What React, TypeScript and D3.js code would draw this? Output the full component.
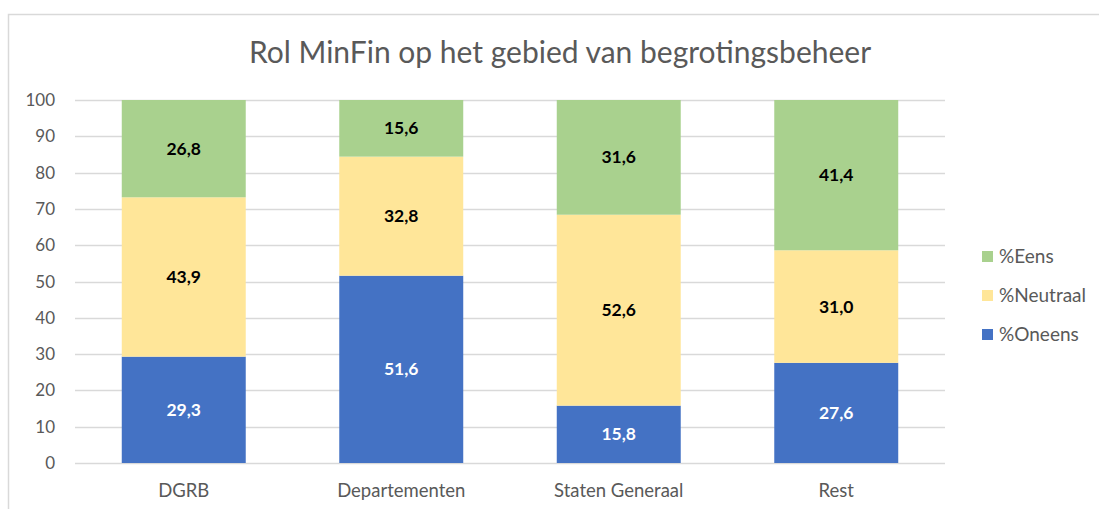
import React, { useEffect, useRef } from 'react';
import * as d3 from 'd3';

const categories = ['DGRB', 'Departementen', 'Staten Generaal', 'Rest'];
const oneens = [29.3, 51.6, 15.8, 27.6];
const neutraal = [43.9, 32.8, 52.6, 31.0];
const eens = [26.8, 15.6, 31.6, 41.4];
const seriesNames = ['%Oneens', '%Neutraal', '%Eens'];
const seriesColors = ['#4472C4', '#FFE699', '#A9D18E'];
const labelColors = ['#ffffff', '#000000', '#000000'];
const yTicks = [0, 10, 20, 30, 40, 50, 60, 70, 80, 90, 100];

const FONT = "Lato, 'Open Sans', sans-serif";

const App = () => {
  const ref = useRef<SVGSVGElement>(null);

  useEffect(() => {
    const svg = d3.select(ref.current);
    svg.selectAll('*').remove();

    // kader om de grafiek
    svg.append('rect')
      .attr('x', 8.5).attr('y', 14.5)
      .attr('width', 1100).attr('height', 500)
      .attr('fill', '#fff')
      .attr('stroke', '#D9D9D9')
      .attr('stroke-width', 1.5);

    svg.append('text')
      .attr('x', 560).attr('y', 63)
      .attr('text-anchor', 'middle')
      .style('font-family', FONT)
      .style('font-size', '30px')
      .attr('fill', '#595959')
      .text('Rol MinFin op het gebied van begrotingsbeheer');

    const x = d3.scaleBand().domain(categories).range([75, 945]).paddingInner(0.43).paddingOuter(0.215);
    const y = d3.scaleLinear().domain([0, 100]).range([463, 100]);

    svg.append('g')
      .selectAll('line')
      .data(yTicks)
      .enter().append('line')
      .attr('x1', 75).attr('x2', 945)
      .attr('y1', d => Math.round(y(d)) + 0.5)
      .attr('y2', d => Math.round(y(d)) + 0.5)
      .attr('stroke', '#D9D9D9')
      .attr('stroke-width', 1.3);

    svg.append('g')
      .selectAll('text')
      .data(yTicks)
      .enter().append('text')
      .attr('x', 55)
      .attr('y', d => y(d) + 6)
      .attr('text-anchor', 'end')
      .style('font-family', FONT)
      .style('font-size', '17px')
      .attr('fill', '#595959')
      .text(d => d);

    const rows = categories.map((c, i) => ({ cat: c, oneens: oneens[i], neutraal: neutraal[i], eens: eens[i] }));
    const stack = d3.stack<any>().keys(['oneens', 'neutraal', 'eens']);
    const layers = stack(rows);

    layers.forEach((layer, li) => {
      const g = svg.append('g');
      g.selectAll('rect')
        .data(layer)
        .enter().append('rect')
        .attr('x', d => x(d.data.cat)!)
        .attr('width', x.bandwidth())
        .attr('y', d => y(d[1]))
        .attr('height', d => y(d[0]) - y(d[1]))
        .attr('fill', seriesColors[li]);
      g.selectAll('text')
        .data(layer)
        .enter().append('text')
        .attr('x', d => x(d.data.cat)! + x.bandwidth() / 2)
        .attr('y', d => (y(d[0]) + y(d[1])) / 2 + 6)
        .attr('text-anchor', 'middle')
        .style('font-family', FONT)
        .style('font-size', '17.5px')
        .style('font-weight', 'bold')
        .attr('fill', labelColors[li])
        .text(d => (d[1] - d[0]).toFixed(1).replace('.', ','));
    });

    svg.append('g')
      .selectAll('text')
      .data(categories)
      .enter().append('text')
      .attr('x', d => x(d)! + x.bandwidth() / 2)
      .attr('y', 497)
      .attr('text-anchor', 'middle')
      .style('font-family', FONT)
      .style('font-size', '18.5px')
      .attr('fill', '#595959')
      .text(d => d);

    // legenda, van boven naar beneden: Eens, Neutraal, Oneens
    const legend = svg.append('g')
      .selectAll('g')
      .data([2, 1, 0])
      .enter().append('g')
      .attr('transform', (d, i) => `translate(982, ${251 + i * 39})`);
    legend.append('rect')
      .attr('width', 11).attr('height', 11)
      .attr('fill', d => seriesColors[d]);
    legend.append('text')
      .attr('x', 17).attr('y', 12)
      .style('font-family', FONT)
      .style('font-size', '19px')
      .attr('fill', '#595959')
      .text(d => seriesNames[d]);
  }, []);

  return (
    <svg ref={ref} width={1099} height={509}
      style={{ position: 'absolute', left: 0, top: 0, background: '#fff' }} />
  );
};

export default App;
